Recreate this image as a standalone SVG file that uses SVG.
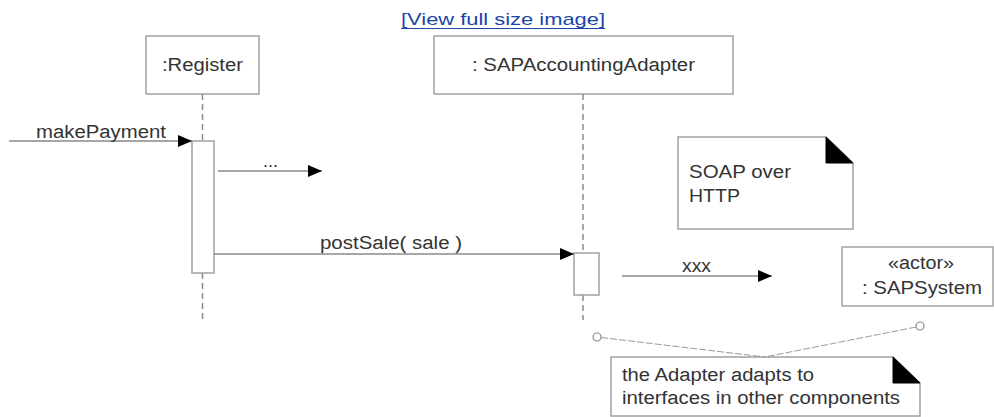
<svg xmlns="http://www.w3.org/2000/svg" width="994" height="417" viewBox="0 0 994 417">
<defs>
<style>
.box{fill:#fff;stroke:#a0a0a0;stroke-width:1.5}
.life{stroke:#8a8a8a;stroke-width:1.5;stroke-dasharray:6 4;fill:none}
.msg{stroke:#8a8a8a;stroke-width:1.5;fill:none}
.anchor{stroke:#9a9a9a;stroke-width:1;stroke-dasharray:7 2;fill:none}
.t{font-family:"Liberation Sans",Arial,Helvetica,sans-serif;font-size:18px;fill:#333}
.ear{fill:#000;stroke:#000;stroke-width:1}
</style>
<marker id="arr" markerWidth="14" markerHeight="12" refX="14" refY="6" orient="auto" markerUnits="userSpaceOnUse">
<path d="M0,0 L14,6 L0,12 z" fill="#000"/>
</marker>
</defs>
<rect width="994" height="417" fill="#fff"/>

<g id="link">
<text x="401" y="25" font-family="'Liberation Sans',Arial,sans-serif" font-size="17" fill="#1a46a8" textLength="204" lengthAdjust="spacingAndGlyphs">[View full size image]</text>
<line x1="401" y1="28.5" x2="605" y2="28.5" stroke="#1a46a8" stroke-width="1.2"/>
</g>

<g id="register">
<rect class="box" x="146" y="36" width="113" height="58"/>
<text class="t" x="202.5" y="71" text-anchor="middle" textLength="81" lengthAdjust="spacingAndGlyphs">:Register</text>
<line class="life" x1="202.5" y1="94" x2="202.5" y2="141"/>
<line class="life" x1="202.5" y1="273" x2="202.5" y2="320"/>
<rect class="box" x="192" y="141" width="22" height="132"/>
</g>

<g id="adapter">
<rect class="box" x="434" y="36" width="299" height="58"/>
<text class="t" x="583.5" y="71" text-anchor="middle" textLength="223" lengthAdjust="spacingAndGlyphs">: SAPAccountingAdapter</text>
<line class="life" x1="583" y1="94" x2="583" y2="253"/>
<line class="life" x1="583" y1="295" x2="583" y2="320"/>
<rect class="box" x="574" y="253" width="25" height="42"/>
</g>

<g id="sapsystem">
<rect class="box" x="842" y="247" width="151" height="59"/>
<text class="t" x="921" y="269" text-anchor="middle" textLength="66" lengthAdjust="spacingAndGlyphs">«actor»</text>
<text class="t" x="862" y="294" textLength="120" lengthAdjust="spacingAndGlyphs">: SAPSystem</text>
</g>

<g id="note-soap">
<path class="box" d="M678,137 L826,137 L853,163 L853,229 L678,229 Z"/>
<path class="ear" d="M826,137 L826,163 L853,163 Z"/>
<text class="t" x="689" y="178" textLength="102" lengthAdjust="spacingAndGlyphs">SOAP over</text>
<text class="t" x="689" y="202" textLength="51" lengthAdjust="spacingAndGlyphs">HTTP</text>
</g>

<g id="note-adapter">
<path class="box" d="M611,357 L893,357 L920,383 L920,416 L611,416 Z"/>
<path class="ear" d="M893,357 L893,383 L920,383 Z"/>
<text class="t" x="622" y="381" fill="#222" textLength="192" lengthAdjust="spacingAndGlyphs">the Adapter adapts to</text>
<text class="t" x="622" y="404" fill="#222" textLength="278" lengthAdjust="spacingAndGlyphs">interfaces in other components</text>
</g>

<g id="connectors">
<line class="msg" x1="9" y1="141" x2="192" y2="141" marker-end="url(#arr)"/>
<text class="t" x="36" y="138" textLength="130" lengthAdjust="spacingAndGlyphs">makePayment</text>
<line class="msg" x1="218" y1="171" x2="322" y2="171" marker-end="url(#arr)"/>
<text class="t" x="263" y="167" font-size="15" fill="#666">...</text>
<line class="msg" x1="214" y1="254" x2="574" y2="254" marker-end="url(#arr)"/>
<text class="t" x="320" y="249" textLength="142" lengthAdjust="spacingAndGlyphs">postSale( sale )</text>
<line class="msg" x1="622" y1="276" x2="772" y2="276" marker-end="url(#arr)"/>
<text class="t" x="682" y="272" textLength="29" lengthAdjust="spacingAndGlyphs">xxx</text>
<circle cx="597" cy="337" r="4" fill="#fff" stroke="#8a8a8a" stroke-width="1.2"/>
<circle cx="920" cy="326" r="4" fill="#fff" stroke="#8a8a8a" stroke-width="1.2"/>
<line class="anchor" x1="601" y1="337.5" x2="765" y2="357"/>
<line class="anchor" x1="916" y1="327" x2="765" y2="357"/>
</g>
</svg>
